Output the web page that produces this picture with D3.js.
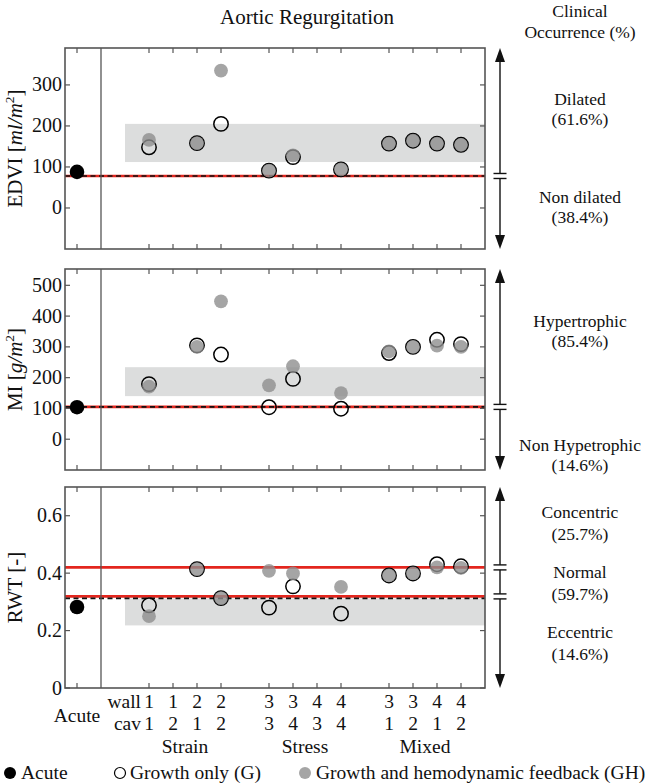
<!DOCTYPE html>
<html><head><meta charset="utf-8">
<script src="https://cdn.jsdelivr.net/npm/d3@7/dist/d3.min.js"></script>
<style>
body{margin:0;background:#fff;}
svg{display:block;}
</style></head>
<body><svg id="chart" width="646" height="783" font-family="Liberation Serif, Times New Roman, serif"></svg>
<script>
// ---------- data ----------
const slots = ["Acute","divider","gap1","S11","S12","S21","S22","gap2","T33","T34","T43","T44","gap3","M31","M32","M41","M42"];
const cases = ["S11","S12","S21","S22","T33","T34","T43","T44","M31","M32","M41","M42"];
const wallLabels = ["1","1","2","2","3","3","4","4","3","3","4","4"];
const cavLabels  = ["1","2","1","2","3","4","3","4","1","2","1","2"];
const groupNames = ["Strain","Stress","Mixed"];
const groupCases = [["S11","S22"],["T33","T44"],["M31","M42"]];

const acuteEDVI = 88, acuteMI = 104, acuteRWT = 0.282;
const edviG  = [148,null,158,205,91,124,null,94,157,164,157,154];
const edviGH = [166,null,158,335,91,128,null,94,157,164,157,154];
const miG    = [179,null,305,275,104,196,null,99,280,300,323,309];
const miGH   = [171,null,300,448,175,237,null,150,285,300,304,300];
const rwtG   = [0.288,null,0.414,0.313,0.280,0.354,null,0.259,0.392,0.399,0.431,0.424];
const rwtGH  = [0.250,null,0.414,0.313,0.408,0.399,null,0.352,0.392,0.399,0.420,0.418];

const edviTicks = [0,100,200,300];
const miTicks = [0,100,200,300,400,500];
const rwtTicks = [0,0.2,0.4,0.6];
const rwtTickLabels = ["0","0.2","0.4","0.6"];

const edviRed = [78], edviDash = 78, edviBand = [112,205];
const miRed = [105], miDash = 105, miBand = [140,234];
const rwtRed = [0.42,0.319], rwtDash = 0.312, rwtBand = [0.218,0.312];

const edviClasses = [["Dilated","(61.6%)"],["Non dilated","(38.4%)"]];
const miClasses = [["Hypertrophic","(85.4%)"],["Non Hypetrophic","(14.6%)"]];
const rwtClasses = [["Concentric","(25.7%)"],["Normal","(59.7%)"],["Eccentric","(14.6%)"]];

const legendLabels = ["Acute","Growth only (G)","Growth and hemodynamic feedback (GH)"];

// ---------- layout ----------
const svg = d3.select("#chart");
const L = 65, R = 485;
const x = d3.scalePoint().domain(slots).range([L, R - 12]).padding(0.5);
const tickSlots = ["Acute"].concat(cases);

const panels = [
  {top:48, bottom:249, domain:[-100,390], ticks:edviTicks, tickLabels:edviTicks.map(String),
   G:edviG, GH:edviGH, acute:acuteEDVI, red:edviRed, dash:edviDash, band:edviBand,
   label:["EDVI [","ml/m","2","]"], classes:edviClasses,
   textY:[[105,125],[203,223]]},
  {top:269, bottom:470, domain:[-100,553], ticks:miTicks, tickLabels:miTicks.map(String),
   G:miG, GH:miGH, acute:acuteMI, red:miRed, dash:miDash, band:miBand,
   label:["MI [","g/m","2","]"], classes:miClasses,
   textY:[[327,347],[451,471]]},
  {top:487, bottom:688, domain:[0,0.7], ticks:rwtTicks, tickLabels:rwtTickLabels,
   G:rwtG, GH:rwtGH, acute:acuteRWT, red:rwtRed, dash:rwtDash, band:rwtBand,
   label:["RWT [-]"], classes:rwtClasses,
   textY:[[518,540],[578,600],[638,660]]}
];

const frameCol = "#555";
const redCol = "#e3261e";

panels.forEach((p) => {
  const y = d3.scaleLinear().domain(p.domain).range([p.bottom, p.top]);
  const g = svg.append("g");
  g.append("rect").attr("x", x("gap1")).attr("width", R - x("gap1"))
    .attr("y", y(p.band[1])).attr("height", y(p.band[0]) - y(p.band[1]))
    .attr("fill", "#dcdddd");
  p.red.forEach(v => {
    g.append("line").attr("x1", L).attr("x2", R).attr("y1", y(v)).attr("y2", y(v))
      .attr("stroke", redCol).attr("stroke-width", 2.6);
  });
  g.append("line").attr("x1", L).attr("x2", R).attr("y1", y(p.dash)).attr("y2", y(p.dash))
    .attr("stroke", "#111").attr("stroke-width", 1.7).attr("stroke-dasharray", "5,3.5");
  g.append("line").attr("x1", x("divider")).attr("x2", x("divider"))
    .attr("y1", p.top).attr("y2", p.bottom).attr("stroke", frameCol).attr("stroke-width", 1.3);
  g.append("circle").attr("cx", x("Acute")).attr("cy", y(p.acute)).attr("r", 7.3).attr("fill", "#000");
  g.selectAll(".g").data(cases.map((c,i)=>({c, v:p.G[i]})).filter(d=>d.v!==null)).enter()
    .append("circle").attr("cx", d=>x(d.c)).attr("cy", d=>y(d.v)).attr("r", 7.2)
    .attr("fill", "none").attr("stroke", "#000").attr("stroke-width", 1.5);
  g.selectAll(".gh").data(cases.map((c,i)=>({c, v:p.GH[i]})).filter(d=>d.v!==null)).enter()
    .append("circle").attr("cx", d=>x(d.c)).attr("cy", d=>y(d.v)).attr("r", 6.9)
    .attr("fill", "#8e8e8e").attr("fill-opacity", 0.8);
  g.append("rect").attr("x", L).attr("y", p.top).attr("width", R - L).attr("height", p.bottom - p.top)
    .attr("fill", "none").attr("stroke", frameCol).attr("stroke-width", 1.6);
  tickSlots.forEach(s => {
    g.append("line").attr("x1", x(s)).attr("x2", x(s)).attr("y1", p.top).attr("y2", p.top + 5)
      .attr("stroke", frameCol).attr("stroke-width", 1.2);
    g.append("line").attr("x1", x(s)).attr("x2", x(s)).attr("y1", p.bottom).attr("y2", p.bottom - 5)
      .attr("stroke", frameCol).attr("stroke-width", 1.2);
  });
  p.ticks.forEach((t, i) => {
    g.append("line").attr("x1", L).attr("x2", L + 5).attr("y1", y(t)).attr("y2", y(t))
      .attr("stroke", frameCol).attr("stroke-width", 1.2);
    g.append("line").attr("x1", R).attr("x2", R - 5).attr("y1", y(t)).attr("y2", y(t))
      .attr("stroke", frameCol).attr("stroke-width", 1.2);
    g.append("text").attr("x", 62).attr("y", y(t) + 6.5).attr("text-anchor", "end")
      .attr("font-size", 20).attr("fill", "#111").text(p.tickLabels[i]);
  });
  const cy = (p.top + p.bottom) / 2;
  const lt = g.append("text").attr("transform", `translate(22,${cy}) rotate(-90)`)
    .attr("text-anchor", "middle").attr("font-size", 21).attr("fill", "#111");
  if (p.label.length === 1) {
    lt.text(p.label[0]);
  } else {
    lt.append("tspan").text(p.label[0]);
    lt.append("tspan").attr("font-style", "italic").text(p.label[1]);
    lt.append("tspan").attr("font-size", 13.5).attr("dy", -8).text(p.label[2]);
    lt.append("tspan").attr("dy", 8).text(p.label[3]);
  }
  const ax = 500;
  g.append("line").attr("x1", ax).attr("x2", ax).attr("y1", p.top + 10).attr("y2", p.bottom - 10)
    .attr("stroke", "#111").attr("stroke-width", 1.4);
  g.append("path").attr("d", `M${ax},${p.top} L${ax-5},${p.top+14} L${ax+5},${p.top+14} Z`).attr("fill", "#111");
  g.append("path").attr("d", `M${ax},${p.bottom} L${ax-5},${p.bottom-14} L${ax+5},${p.bottom-14} Z`).attr("fill", "#111");
  p.red.forEach(v => {
    const yy = y(v);
    g.append("rect").attr("x", ax - 3).attr("y", yy - 2.5).attr("width", 6).attr("height", 5).attr("fill", "#fff");
    [-2.5, 2.5].forEach(o => {
      g.append("line").attr("x1", ax - 6.5).attr("x2", ax + 6.5).attr("y1", yy + o).attr("y2", yy + o)
        .attr("stroke", "#111").attr("stroke-width", 1.4);
    });
  });
  p.classes.forEach((c, i) => {
    c.forEach((s, j) => {
      g.append("text").attr("x", 580).attr("y", p.textY[i][j]).attr("text-anchor", "middle")
        .attr("font-size", 17.5).attr("fill", "#111").text(s);
    });
  });
});

const tg = svg.append("g").attr("fill", "#111");
tg.append("text").attr("x", 307).attr("y", 24).attr("text-anchor", "middle")
  .attr("font-size", 21).text("Aortic Regurgitation");
tg.append("text").attr("x", 580).attr("y", 17).attr("text-anchor", "middle")
  .attr("font-size", 17.5).text("Clinical");
tg.append("text").attr("x", 580).attr("y", 38).attr("text-anchor", "middle")
  .attr("font-size", 17.5).text("Occurrence (%)");

const xl = svg.append("g").attr("font-size", 19.5).attr("fill", "#111");
xl.append("text").attr("x", x("Acute")).attr("y", 722).attr("text-anchor", "middle").text("Acute");
xl.append("text").attr("x", 141).attr("y", 708).attr("text-anchor", "end").text("wall");
xl.append("text").attr("x", 141).attr("y", 730).attr("text-anchor", "end").text("cav");
cases.forEach((c, i) => {
  xl.append("text").attr("x", x(c)).attr("y", 708).attr("text-anchor", "middle").text(wallLabels[i]);
  xl.append("text").attr("x", x(c)).attr("y", 730).attr("text-anchor", "middle").text(cavLabels[i]);
});
groupNames.forEach((n, i) => {
  const cx = (x(groupCases[i][0]) + x(groupCases[i][1])) / 2;
  xl.append("text").attr("x", cx).attr("y", 753).attr("text-anchor", "middle").text(n);
});

const lg = svg.append("g").attr("font-size", 19.5).attr("fill", "#111");
lg.append("circle").attr("cx", 10).attr("cy", 773).attr("r", 6).attr("fill", "#000");
lg.append("text").attr("x", 21).attr("y", 779).text(legendLabels[0]);
lg.append("circle").attr("cx", 120).attr("cy", 773).attr("r", 5.5).attr("fill", "none").attr("stroke", "#000").attr("stroke-width", 1.2);
lg.append("text").attr("x", 130).attr("y", 779).text(legendLabels[1]);
lg.append("circle").attr("cx", 305).attr("cy", 773).attr("r", 6).attr("fill", "#a5a5a5");
lg.append("text").attr("x", 316).attr("y", 779).text(legendLabels[2]);
</script></body></html>
